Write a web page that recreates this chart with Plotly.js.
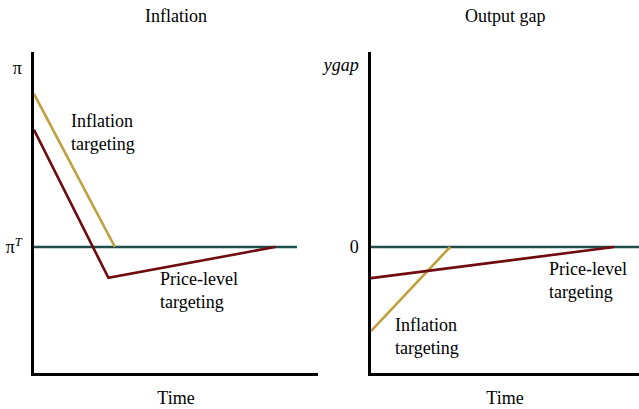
<!DOCTYPE html>
<html>
<head>
<meta charset="utf-8">
<script src="https://cdn.plot.ly/plotly-3.0.1.min.js"></script>
<style>html,body{margin:0;padding:0;background:#fff;}#chart{width:639px;height:409px;}</style>
</head>
<body>
<div id="chart"></div>
<script>
// Left panel: Inflation
const targetTimeL = [0, 9.26];
const targetValL = [0, 0];
const itTimeL = [0, 2.85];
const itValL = [4.77, 0];
const plTimeL = [0, 2.62, 8.49];
const plValL = [3.65, -0.96, 0];
// Right panel: Output gap
const targetTimeR = [0, 10];
const targetValR = [0, 0];
const itTimeR = [0, 2.95];
const itValR = [-2.62, 0];
const plTimeR = [0, 9.07];
const plValR = [-0.97, 0];
// Tick labels
const yTickValsL = [0, 5.6];
const yTickTextL = ["π<sup><i>T</i></sup>", "π"];
const yTickValsR = [0, 5.67];
const yTickTextR = ["0", "<i>ygap</i>"];

const TEAL = "#1f4d49", GOLD = "#bfa03c", RED = "#6f0a0e";
const FONT = "Liberation Serif";
const LW = 2.6;

const traces = [
  {x: targetTimeL, y: targetValL, xaxis: "x", yaxis: "y", mode: "lines", line: {color: TEAL, width: LW}},
  {x: itTimeL, y: itValL, xaxis: "x", yaxis: "y", mode: "lines", line: {color: GOLD, width: LW}},
  {x: plTimeL, y: plValL, xaxis: "x", yaxis: "y", mode: "lines", line: {color: RED, width: LW}},
  {x: targetTimeR, y: targetValR, xaxis: "x2", yaxis: "y2", mode: "lines", line: {color: TEAL, width: LW}},
  {x: itTimeR, y: itValR, xaxis: "x2", yaxis: "y2", mode: "lines", line: {color: GOLD, width: LW}},
  {x: plTimeR, y: plValR, xaxis: "x2", yaxis: "y2", mode: "lines", line: {color: RED, width: LW}}
];

const yRange = [-3.925, 6.075];
const axisX = (domain) => ({
  domain: domain, range: [0, 10], showline: true, linecolor: "#000", linewidth: 2.6,
  showgrid: false, zeroline: false, showticklabels: false, ticks: "",
  title: {text: "Time", font: {family: FONT, size: 18, color: "#000"}, standoff: 17},
  automargin: false, fixedrange: true
});
const axisY = (domain, tv, tt, anchor) => ({
  domain: domain, range: yRange, anchor: anchor, showline: true, linecolor: "#000", linewidth: 2.6,
  showgrid: false, zeroline: false, tickvals: tv, ticktext: tt, ticks: "outside", ticklen: 6,
  tickcolor: "rgba(0,0,0,0)", tickfont: {family: FONT, size: 18, color: "#000"},
  automargin: false, fixedrange: true
});

const lbl = (text, x, y, xref, yref) => ({
  text: text, x: x, y: y, xref: xref, yref: yref, xanchor: "left", yanchor: "middle", align: "left",
  showarrow: false, font: {family: FONT, size: 18, color: "#000"}
});

const layout = {
  width: 639, height: 409,
  margin: {l: 0, r: 0, t: 0, b: 0},
  paper_bgcolor: "#fff", plot_bgcolor: "#fff",
  showlegend: false,
  font: {family: FONT, size: 18, color: "#000"},
  xaxis: axisX([34/639, 318/639]),
  yaxis: axisY([36/409, 357/409], yTickValsL, yTickTextL, "x"),
  xaxis2: axisX([371/639, 1]),
  yaxis2: axisY([36/409, 357/409], yTickValsR, yTickTextR, "x2"),
  annotations: [
    {text: "Inflation", x: 0.5, y: 393/409, xref: "x domain", yref: "paper", xanchor: "center", yanchor: "middle", showarrow: false, font: {family: FONT, size: 18, color: "#000"}},
    {text: "Output gap", x: 0.5, y: 393/409, xref: "x2 domain", yref: "paper", xanchor: "center", yanchor: "middle", showarrow: false, font: {family: FONT, size: 18, color: "#000"}},
    lbl("Inflation<br>targeting", 1.23, 3.58, "x", "y"),
    lbl("Price-level<br>targeting", 4.37, -1.37, "x", "y"),
    lbl("Price-level<br>targeting", 6.57, -1.03, "x2", "y2"),
    lbl("Inflation<br>targeting", 0.82, -2.80, "x2", "y2")
  ]
};

Plotly.newPlot("chart", traces, layout, {displayModeBar: false, staticPlot: true});
</script>
</body>
</html>
